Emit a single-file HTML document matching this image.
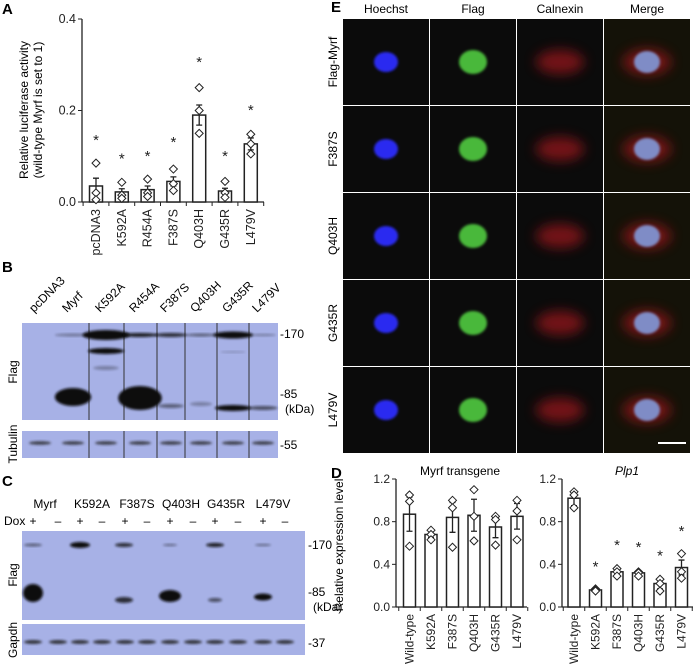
<!DOCTYPE html>
<html><head><meta charset="utf-8">
<style>
html,body{margin:0;padding:0;background:#fff;}
svg{display:block;font-family:"Liberation Sans",Arial,sans-serif;}
</style></head>
<body>
<svg id="fig" width="697" height="668" viewBox="0 0 697 668" xmlns="http://www.w3.org/2000/svg">
<defs>
<filter id="blur1" x="-50%" y="-50%" width="200%" height="200%"><feGaussianBlur stdDeviation="1.2"/></filter>
<filter id="blur3" x="-50%" y="-50%" width="200%" height="200%"><feGaussianBlur stdDeviation="3"/></filter>
<filter id="blur6" x="-80%" y="-80%" width="260%" height="260%"><feGaussianBlur stdDeviation="6"/></filter>
</defs>
<g id="panelA"></g>
<g id="panelB"></g>
<g id="panelC"></g>
<g id="panelD"></g>
<g id="panelE"></g>
</svg>
<script>
// ---- Panel A data ----
const aCats = ["pcDNA3","K592A","R454A","F387S","Q403H","G435R","L479V"];
const aMeans = [0.035,0.022,0.027,0.045,0.19,0.024,0.127];
const aErr = [0.017,0.007,0.008,0.010,0.022,0.006,0.013];
const aPts = [[0.085,0.02,0.005],[0.043,0.015,0.008],[0.05,0.02,0.012],[0.072,0.04,0.025],[0.25,0.2,0.15],[0.045,0.02,0.01],[0.148,0.127,0.105]];
const aStars = [0.14,0.1,0.105,0.135,0.31,0.105,0.205];
const aTicks = [0.0,0.2,0.4];
// ---- Panel D data ----
const dCats = ["Wild-type","K592A","F387S","Q403H","G435R","L479V"];
const d1Means = [0.87,0.68,0.84,0.86,0.75,0.85];
const d1Err = [0.16,0.03,0.14,0.15,0.10,0.12];
const d1Pts = [[1.05,0.99,0.57],[0.72,0.68,0.63],[1.0,0.93,0.56],[1.1,0.85,0.62],[0.85,0.82,0.58],[1.0,0.9,0.63]];
const d2Means = [1.02,0.16,0.33,0.32,0.22,0.37];
const d2Err = [0.07,0.01,0.03,0.02,0.05,0.07];
const d2Pts = [[1.08,1.05,0.93],[0.17,0.16,0.15],[0.36,0.33,0.29],[0.33,0.32,0.29],[0.26,0.22,0.15],[0.5,0.33,0.27]];
const d2Stars = [null,0.4,0.6,0.58,0.5,0.73];
const dTicks = [0.0,0.4,0.8,1.2];

const NS="http://www.w3.org/2000/svg";
function mk(parent,tag,attrs,text){const e=document.createElementNS(NS,tag);for(const k in attrs)e.setAttribute(k,attrs[k]);if(text!==undefined)e.textContent=text;parent.appendChild(e);return e;}
function diamond(g,x,y,name){const p=mk(g,"path",{d:`M${x} ${y-4}L${x+4} ${y}L${x} ${y+4}L${x-4} ${y}Z`,fill:"#fff",stroke:"#222","stroke-width":1});

}

function barChart(g,opt){
  const y=v=>opt.y0-(v/opt.ymax)*(opt.y0-opt.ytop);
  const x=i=>opt.x1+opt.step*i;
  mk(g,"line",{x1:opt.ax,y1:opt.ytop,x2:opt.ax,y2:opt.y0,stroke:"#222","stroke-width":1.3});
  mk(g,"line",{x1:opt.ax,y1:opt.y0,x2:opt.xend,y2:opt.y0,stroke:"#222","stroke-width":1.3});
  opt.ticks.forEach(t=>{mk(g,"line",{x1:opt.ax-4,y1:y(t),x2:opt.ax,y2:y(t),stroke:"#222"});
    const tl=mk(g,"text",{x:opt.ax-6,y:y(t)+4,"font-size":opt.fs,"text-anchor":"end",fill:"#222"},t.toFixed(1));
    
    });
  for(let i=0;i<=opt.cats.length;i++){const tx=opt.x1-opt.step/2+opt.step*i;mk(g,"line",{x1:tx,y1:opt.y0,x2:tx,y2:opt.y0+4,stroke:"#222"});}
  opt.cats.forEach((c,i)=>{
    const b=mk(g,"rect",{x:x(i)-opt.bw/2,y:y(opt.means[i]),width:opt.bw,height:opt.y0-y(opt.means[i]),fill:"#fff",stroke:"#222","stroke-width":1.5});
    
    
    const e1=y(opt.means[i]+opt.err[i]),e2=y(opt.means[i]-opt.err[i]);
    const eb=mk(g,"path",{d:`M${x(i)} ${e1}V${e2}M${x(i)-3} ${e1}H${x(i)+3}M${x(i)-3} ${e2}H${x(i)+3}`,stroke:"#222","stroke-width":1.3,fill:"none"});
    
    
    opt.pts[i].forEach(p=>diamond(g,x(i),y(p),'data-point'));
    if(opt.stars&&opt.stars[i]!=null){const s=mk(g,"text",{x:x(i),y:y(opt.stars[i])+7,"font-size":15,"text-anchor":"middle",fill:"#222"},"*");
      
      }
    const lx=x(i)+4, ly=opt.y0+7;
    const t=mk(g,"text",{x:lx,y:ly,"font-size":opt.fs,"text-anchor":"end",fill:"#222",transform:`rotate(-90 ${lx} ${ly})`},c);
    
    
  });
}

// Panel A
const A=document.getElementById("panelA");
mk(A,"text",{x:2,y:14,"font-size":15,"font-weight":"bold"},"A");
barChart(A,{ax:82,y0:202,ytop:19,ymax:0.4,x1:96,step:25.8,bw:13,xend:264,cats:aCats,means:aMeans,err:aErr,pts:aPts,stars:aStars,ticks:aTicks,fs:12.5});
const at1=mk(A,"text",{x:28,y:110,"font-size":12,"text-anchor":"middle",transform:"rotate(-90 28 110)"},"Relative luciferase activity");

const at2=mk(A,"text",{x:42,y:110,"font-size":12,"text-anchor":"middle",transform:"rotate(-90 42 110)"},"(wild-type Myrf is set to 1)");


// Panel D
const D=document.getElementById("panelD");
mk(D,"text",{x:331,y:478,"font-size":15,"font-weight":"bold"},"D");
mk(D,"text",{x:460,y:475,"font-size":12,"text-anchor":"middle"},"Myrf transgene");
mk(D,"text",{x:627,y:475,"font-size":12,"text-anchor":"middle","font-style":"italic"},"Plp1");
barChart(D,{ax:396,y0:607,ytop:479,ymax:1.2,x1:409.5,step:21.5,bw:12,xend:527,cats:dCats,means:d1Means,err:d1Err,pts:d1Pts,stars:null,ticks:dTicks,fs:12});
barChart(D,{ax:562,y0:607,ytop:479,ymax:1.2,x1:574,step:21.5,bw:12,xend:693,cats:dCats,means:d2Means,err:d2Err,pts:d2Pts,stars:d2Stars,ticks:dTicks,fs:12});
const dt=mk(D,"text",{x:343,y:545,"font-size":12,"text-anchor":"middle",transform:"rotate(-90 343 545)"},"Relative expression level");


// Panel B blot
const B=document.getElementById("panelB");
mk(B,"text",{x:2,y:272,"font-size":15,"font-weight":"bold"},"B");
const bLanes=["pcDNA3","Myrf","K592A","R454A","F387S","Q403H","G435R","L479V"];
const bX=[40,73,106,140,171,201,233,263];
mk(B,"rect",{x:22,y:323,width:256,height:97,fill:"#a7b1e6"});
mk(B,"rect",{x:22,y:431,width:256,height:27,fill:"#a7b1e6"});
[89,124,157,185,217,249].forEach(d=>{mk(B,"line",{x1:d,y1:323,x2:d,y2:420,stroke:"#333"});mk(B,"line",{x1:d,y1:431,x2:d,y2:458,stroke:"#333"});});
bLanes.forEach((l,i)=>{const t=mk(B,"text",{x:bX[i]-6,y:313,"font-size":12,transform:`rotate(-45 ${bX[i]-6} 313)`},l);
  });
const bBands=[[73,335,20,1.5,0.35],[106,335,26,5,1],[106,351,20,3,1],[106,368,14,2,0.3],[140,335,20,2,0.9],[171,335,18,2,0.8],[201,335,16,1.5,0.5],[233,335,22,3.5,1],[233,352,14,1,0.2],[263,335,14,1.2,0.3],
 [73,397,20,9,1],[140,398,24,12,1],[171,406,14,2,0.5],[201,404,12,2,0.3],[233,408,20,3,1],[263,408,16,2,0.6]];
bBands.forEach(b=>mk(B,"ellipse",{cx:b[0],cy:b[1],rx:b[2]/1.1,ry:b[3],fill:"#111",opacity:b[4],filter:"url(#blur1)"}));
bX.forEach(x=>mk(B,"ellipse",{cx:x,cy:443,rx:11,ry:1.8,fill:"#222",opacity:0.8,filter:"url(#blur1)"}));
mk(B,"text",{x:280,y:338,"font-size":12},"-170");
mk(B,"text",{x:280,y:398,"font-size":12},"-85");
mk(B,"text",{x:285,y:413,"font-size":12},"(kDa)");
mk(B,"text",{x:280,y:449,"font-size":12},"-55");
mk(B,"text",{x:17,y:372,"font-size":12,"text-anchor":"middle",transform:"rotate(-90 17 372)"},"Flag");
mk(B,"text",{x:17,y:444,"font-size":12,"text-anchor":"middle",transform:"rotate(-90 17 444)"},"Tubulin");

// Panel C blot
const C=document.getElementById("panelC");
mk(C,"text",{x:2,y:486,"font-size":15,"font-weight":"bold"},"C");
const cNames=["Myrf","K592A","F387S","Q403H","G435R","L479V"];
const cNX=[45,92,137,181,226,273];
cNames.forEach((n,i)=>mk(C,"text",{x:cNX[i],y:508,"font-size":12,"text-anchor":"middle"},n));
const cLX=[33,58,80,102,125,147,170,193,215,238,263,285];
mk(C,"text",{x:4,y:525,"font-size":12},"Dox");
cLX.forEach((x,i)=>mk(C,"text",{x:x,y:525,"font-size":12,"text-anchor":"middle"},i%2?"–":"+"));
mk(C,"rect",{x:22,y:531,width:283,height:89,fill:"#a7b1e6"});
mk(C,"rect",{x:22,y:624,width:283,height:31,fill:"#a7b1e6"});
const cBands=[[33,545,9,1.5,0.5],[80,545,10,3,1],[124,545,9,2,0.8],[170,545,7,1.2,0.4],[215,545,9,2,0.9],[263,545,8,1.2,0.4],
 [33,593,10,9,1],[124,600,9,3,0.8],[170,596,11,6,1],[215,600,7,2,0.6],[263,597,9,3.5,1]];
cBands.forEach(b=>mk(C,"ellipse",{cx:b[0],cy:b[1],rx:b[2],ry:b[3],fill:"#111",opacity:b[4],filter:"url(#blur1)"}));
cLX.forEach(x=>mk(C,"ellipse",{cx:x,cy:642,rx:9,ry:2,fill:"#222",opacity:0.85,filter:"url(#blur1)"}));
mk(C,"text",{x:308,y:549,"font-size":12},"-170");
mk(C,"text",{x:308,y:596,"font-size":12},"-85");
mk(C,"text",{x:313,y:611,"font-size":12},"(kDa)");
mk(C,"text",{x:308,y:647,"font-size":12},"-37");
mk(C,"text",{x:17,y:575,"font-size":12,"text-anchor":"middle",transform:"rotate(-90 17 575)"},"Flag");
mk(C,"text",{x:17,y:640,"font-size":12,"text-anchor":"middle",transform:"rotate(-90 17 640)"},"Gapdh");

// Panel E images
const E=document.getElementById("panelE");
mk(E,"text",{x:331,y:12,"font-size":15,"font-weight":"bold"},"E");
const eCols=["Hoechst","Flag","Calnexin","Merge"];
const eRows=["Flag-Myrf","F387S","Q403H","G435R","L479V"];
const cx0=343,cw=87,ry0=19,rh=87;
eCols.forEach((c,i)=>mk(E,"text",{x:cx0+cw*i+43,y:13,"font-size":12,"text-anchor":"middle"},c));
eRows.forEach((r,j)=>{
  const yy=ry0+rh*j;
  mk(E,"text",{x:337,y:yy+43,"font-size":12,"text-anchor":"middle",transform:`rotate(-90 337 ${yy+43})`},r);
  for(let i=0;i<4;i++){
    const xx=cx0+cw*i;
    const cell=mk(E,"g",{});
    
    
    mk(cell,"rect",{x:xx,y:yy,width:86,height:86,fill:i==3?"#141208":"#0b0b0b"});
    const cx=xx+43,cy=yy+43;
    if(i==0) mk(cell,"ellipse",{cx:cx,cy:cy,rx:12,ry:10,fill:"#2a2cf0",filter:"url(#blur1)"});
    if(i==1) mk(cell,"ellipse",{cx:cx,cy:cy,rx:14,ry:12,fill:"#49b83a",filter:"url(#blur1)"});
    if(i==2) mk(cell,"ellipse",{cx:cx,cy:cy,rx:24,ry:12,fill:"#a0161a",opacity:0.7,filter:"url(#blur6)"});
    if(i==3){mk(cell,"ellipse",{cx:cx,cy:cy,rx:24,ry:13,fill:"#a0161a",opacity:0.7,filter:"url(#blur6)"});
      mk(cell,"ellipse",{cx:cx,cy:cy,rx:13,ry:11,fill:"#7f8cc6",filter:"url(#blur1)"});}
  }
});
mk(E,"rect",{x:658,y:442,width:28,height:2,fill:"#fff"});
</script>
</body></html>
